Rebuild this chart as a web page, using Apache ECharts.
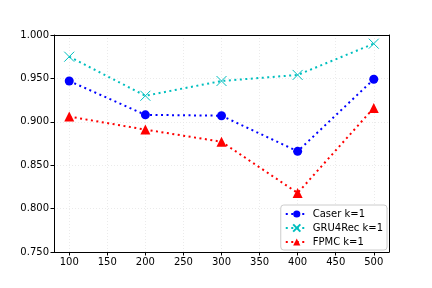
<!DOCTYPE html>
<html><head><meta charset="utf-8">
<script src="https://cdn.jsdelivr.net/npm/echarts@6/dist/echarts.min.js"></script>
<style>html,body{margin:0;padding:0;background:#fff}#c{width:432px;height:288px}</style>
</head><body><div id="c"></div>
<script>
var xValues = [100, 200, 300, 400, 500];
var caser = [0.947, 0.908, 0.907, 0.866, 0.949];
var gru4rec = [0.975, 0.930, 0.947, 0.954, 0.990];
var fpmc = [0.906, 0.891, 0.877, 0.818, 0.916];
var xTicks = [100, 150, 200, 250, 300, 350, 400, 450, 500];
var seriesNames = ['Caser k=1', 'GRU4Rec k=1', 'FPMC k=1'];

function pairs(v){ return xValues.map(function(x,i){return [x, v[i]];}); }
var font = 'DejaVu Sans';
var chart = echarts.init(document.getElementById('c'), null, {renderer:'canvas'});
chart.setOption({
  animation: false,
  backgroundColor: '#fff',
  grid: {left: 54, right: 43, top: 35, bottom: 36},
  xAxis: [{
    type: 'value', min: 80, max: 520,
    axisLine: {show: true, lineStyle: {color: '#000', width: 1}},
    axisTick: {show: true, length: 3.5, customValues: xTicks, lineStyle: {color: '#000'}},
    axisLabel: {customValues: xTicks, color: '#000', fontFamily: font, fontSize: 10, margin: 5},
    splitLine: {show: true, lineStyle: {color: '#e6e6e6', type: [1, 2], width: 0.8}}
  }, {
    type: 'value', position: 'top', min: 80, max: 520,
    axisLine: {show: true, onZero: false, lineStyle: {color: '#000', width: 1}},
    axisTick: {show: false}, axisLabel: {show: false}, splitLine: {show: false}
  }],
  yAxis: [{
    type: 'value', min: 0.75, max: 1.0, interval: 0.05,
    axisLine: {show: true, lineStyle: {color: '#000', width: 1}},
    axisTick: {show: true, length: 3.5, lineStyle: {color: '#000'}},
    axisLabel: {color: '#000', fontFamily: font, fontSize: 10, margin: 5, formatter: function(v){return v.toFixed(3);}},
    splitLine: {show: true, lineStyle: {color: '#e6e6e6', type: [1, 2], width: 0.8}}
  }, {
    type: 'value', position: 'right', min: 0.75, max: 1.0,
    axisLine: {show: true, onZero: false, lineStyle: {color: '#000', width: 1}},
    axisTick: {show: false}, axisLabel: {show: false}, splitLine: {show: false}
  }],
  legend: {
    right: 45, bottom: 38, orient: 'vertical',
    backgroundColor: '#fff', borderColor: '#ccc', borderWidth: 1, borderRadius: 3,
    padding: [4, 4, 3, 4], itemGap: 4, itemWidth: 22, itemHeight: 9,
    textStyle: {fontFamily: font, fontSize: 10, color: '#000'},
    data: seriesNames
  },
  series: [
    {name: seriesNames[0], type: 'line', data: pairs(caser), symbol: 'circle', symbolSize: 9,
     itemStyle: {color: '#0000ff'}, lineStyle: {color: '#0000ff', type: [2, 3.5], width: 2}},
    {name: seriesNames[1], type: 'line', data: pairs(gru4rec), symbol: 'path://M0,0L10,10M10,0L0,10', symbolSize: 10,
     itemStyle: {color: '#00bfbf', borderColor: '#00bfbf', borderWidth: 1}, lineStyle: {color: '#00bfbf', type: [2, 3.5], width: 2}},
    {name: seriesNames[2], type: 'line', data: pairs(fpmc), symbol: 'triangle', symbolSize: 10,
     itemStyle: {color: '#ff0000'}, lineStyle: {color: '#ff0000', type: [2, 3.5], width: 2}}
  ]
});
</script></body></html>
